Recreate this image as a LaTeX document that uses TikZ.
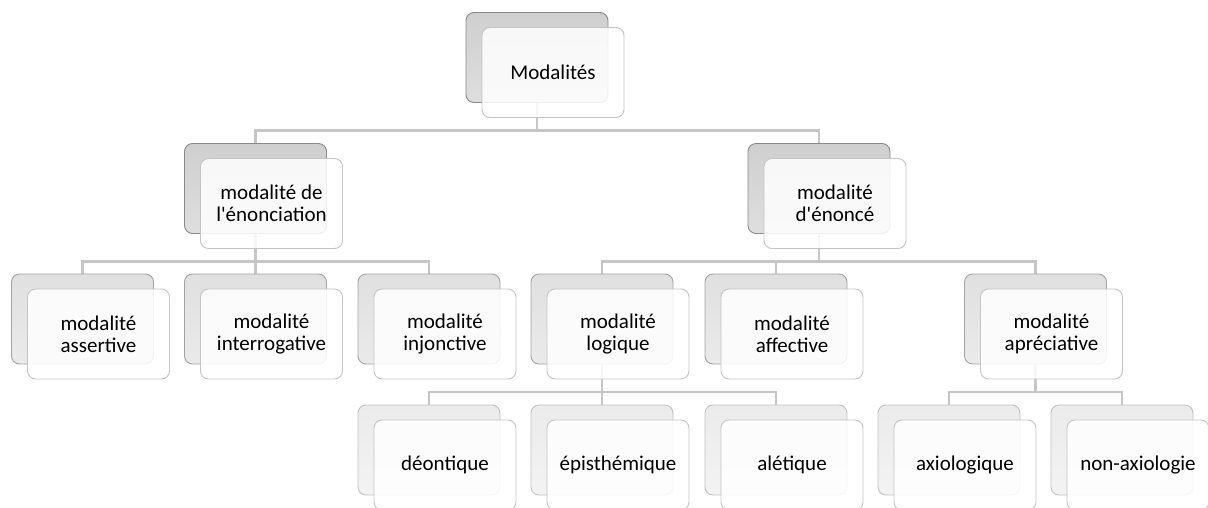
\documentclass[tikz,border=0pt]{standalone}
\usepackage{fontspec}
\setmainfont{Carlito}[Ligatures=TeXOff]
\usetikzlibrary{calc}
\pgfdeclarelayer{bg}
\pgfsetlayers{bg,main}
\definecolor{linec}{HTML}{C6C6C6}
\definecolor{drawA}{HTML}{8A8A8A}
\definecolor{topA}{HTML}{CFCFCF}
\definecolor{botA}{HTML}{DEDEDE}
\definecolor{drawB}{HTML}{A3A3A3}
\definecolor{topB}{HTML}{E0E0E0}
\definecolor{botB}{HTML}{EAEAEA}
\definecolor{drawC}{HTML}{C2C2C2}
\definecolor{topC}{HTML}{EBEBEB}
\definecolor{botC}{HTML}{F3F3F3}
\definecolor{frontdraw}{HTML}{C4C4C4}
\tikzset{
  boxbase/.style={rounded corners=8pt, minimum width=142pt, minimum height=90pt, inner sep=0pt, line width=0.9pt},
  backA/.style={boxbase, draw=drawA, top color=topA, bottom color=botA},
  backB/.style={boxbase, draw=drawB, top color=topB, bottom color=botB},
  backC/.style={boxbase, draw=drawC, top color=topC, bottom color=botC},
  frontbox/.style={boxbase, draw=frontdraw, fill=white, fill opacity=0.86, text opacity=1, align=center, font=\fontsize{21}{22}\selectfont},
  conn/.style={draw=linec, line width=2.5pt}
}
% #1 name, #2 back style, #3 x, #4 y, #5 text
\newcommand\mkpair[5]{%
  \node[#2] (b#1) at (#3,#4) {};
  \node[frontbox] (f#1) at ($(b#1.center)+(16,15)$) {#5};
}
\begin{document}
\begin{tikzpicture}[x=1pt,y=-1pt]
\clip (0,0) rectangle (1208,507);
\useasboundingbox (0,0) rectangle (1208,507);
% level 1
\mkpair{top}{backA}{537}{57.5}{Modalités}
% level 2
\mkpair{en}{backA}{255.5}{188.5}{modalité de\\l'énonciation}
\mkpair{eo}{backA}{819}{188.5}{modalité\\d'énoncé}
% level 3
\mkpair{as}{backB}{82.5}{319}{modalité\\assertive}
\mkpair{in}{backB}{255.5}{319}{modalité\\interrogative}
\mkpair{ij}{backB}{429}{319}{modalité\\injonctive}
\mkpair{lo}{backB}{602}{319}{modalité\\logique}
\mkpair{af}{backB}{776}{319}{modalité\\affective}
\mkpair{ap}{backB}{1035.5}{319}{modalité\\apréciative}
% level 4
\mkpair{de}{backC}{429}{450}{déontique}
\mkpair{ep}{backC}{602}{450}{épisthémique}
\mkpair{al}{backC}{776}{450}{alétique}
\mkpair{ax}{backC}{949}{450}{axiologique}
\mkpair{na}{backC}{1122}{450}{non-axiologie}
% connectors
\begin{pgfonlayer}{bg}
  \fill[white] (0,0) rectangle (1208,507);
  \coordinate (m1) at ($(ftop.south)!.5!(ben.north)$);
  \coordinate (m2) at ($(fen.south)!.5!(bas.north)$);
  \coordinate (m3) at ($(flo.south)!.5!(bde.north)$);
  \foreach \c in {en,eo}
    \draw[conn] (btop.south) -- (btop.south |- m1) -| (b\c.north);
  \foreach \c in {as,in,ij}
    \draw[conn] (ben.south) -- (ben.south |- m2) -| (b\c.north);
  \foreach \c in {lo,af,ap}
    \draw[conn] (beo.south) -- (beo.south |- m2) -| (b\c.north);
  \foreach \c in {de,ep,al}
    \draw[conn] (blo.south) -- (blo.south |- m3) -| (b\c.north);
  \foreach \c in {ax,na}
    \draw[conn] (bap.south) -- (bap.south |- m3) -| (b\c.north);
\end{pgfonlayer}
\end{tikzpicture}
\end{document}
